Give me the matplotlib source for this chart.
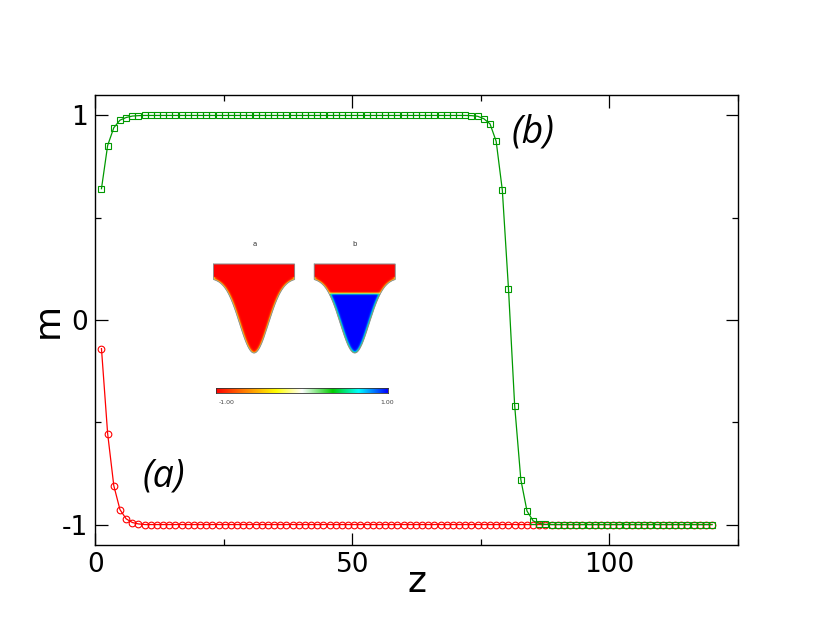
import numpy as np
import matplotlib
matplotlib.use("Agg")
import matplotlib.pyplot as plt
from matplotlib.colors import LinearSegmentedColormap

plt.rcParams['axes.unicode_minus'] = False

# sample positions along z (100 points)
z = np.round(np.arange(1, 101) * 1.2, 1)

# curve (a): red circles
m_a = [-0.14, -0.555, -0.81, -0.927, -0.972, -0.99, -0.997] + [-1.0] * 93

# curve (b): green squares
m_b = ([0.642, 0.853, 0.94, 0.977, 0.99, 0.997, 0.999]
       + [1.0] * 53
       + [0.999, 0.996]
       + [0.984, 0.959, 0.874, 0.635, 0.152, -0.418, -0.78, -0.934, -0.982, -0.995, -0.999]
       + [-1.0] * 27)

x_ticks = [0, 50, 100]
y_ticks = [-1, 0, 1]
y_ticklabels = ['-1', '0', '1']

fig = plt.figure(figsize=(8.3, 6.42), dpi=100)
ax = fig.add_axes([95.3 / 830, 97 / 642, 642.4 / 830, 450 / 642])

ax.plot(z, m_a, color='red', lw=0.9, marker='o', ms=4.8, mfc='none', mec='red', mew=0.8)
ax.plot(z, m_b, color='#009900', lw=0.9, marker='s', ms=4.2, mfc='none', mec='#009900', mew=0.8)

ax.set_xlim(0, 125)
ax.set_ylim(-1.1, 1.1)
ax.set_xticks(x_ticks)
ax.set_xticks([25, 75, 125], minor=True)
ax.set_yticks(y_ticks)
ax.set_yticklabels(y_ticklabels)
ax.set_yticks([-0.5, 0.5], minor=True)
ax.tick_params(which='both', direction='in', top=True, right=True, width=0.9)
ax.tick_params(which='major', length=9, labelsize=19, pad=5)
ax.tick_params(which='minor', length=4.5)
for s in ax.spines.values():
    s.set_linewidth(1.0)

ax.set_xlabel('z', fontsize=26, labelpad=-9)
ax.set_ylabel('m', fontsize=26, labelpad=-2)

# labels placed in figure pixels (top-down)
fig.text(164 / 830, 1 - 477 / 642, '(a)', fontsize=27, fontstyle='italic', family='Open Sans',
         ha='center', va='center')
fig.text(533 / 830, 1 - 133 / 642, '(b)', fontsize=27, fontstyle='italic', family='Open Sans',
         ha='center', va='center')

# ---- inset picture (two wells + colour bar), drawn in figure-pixel units ----
cmap = LinearSegmentedColormap.from_list('rw', [
    (0.0, '#ff0000'), (0.17, '#ff8000'), (0.35, '#ffff00'), (0.5, '#ffffff'),
    (0.68, '#00cc00'), (0.83, '#00ffff'), (1.0, '#0000ff')])

ins = fig.add_axes([200 / 830, (642 - 412) / 642, 205 / 830, 182 / 642])
ins.set_xlim(200, 405)
ins.set_ylim(412, 230)
ins.axis('off')

top_y, rim_y, depth, half_w, sig2 = 264.0, 278.0, 75.0, 40.5, 210.0
iface_y = 293.3
eps = 1.3

xs = np.arange(205, 405, 0.25)
ys = np.arange(255, 362, 0.25)
X, Y = np.meshgrid(xs, ys)

for cx, two_phase in [(254.0, False), (354.7, True)]:
    dx = X - cx
    floor = rim_y + depth * np.exp(-dx ** 2 / (2 * sig2))
    inside = (np.abs(dx) <= half_w) & (Y >= top_y) & (Y <= floor)
    # distance to the curved wall (rough)
    yy = np.clip(Y - rim_y, 1e-6, depth)
    wy = np.sqrt(np.clip(2 * sig2 * np.log(depth / yy), 0, None))
    wy = np.minimum(wy, half_w)
    dh = np.clip(wy - np.abs(dx), 0, None)
    dv = np.clip(floor - Y, 0, None)
    d = dh * dv / np.sqrt(dh ** 2 + dv ** 2 + 1e-9)
    d = np.where(Y < rim_y - 1, 99.0, d)
    if two_phase:
        v = np.tanh((Y - iface_y) / 0.9) * np.tanh(d / eps)
    else:
        v = -np.tanh(d / eps)
    v = np.ma.masked_where(~inside, v)
    ins.imshow(v, cmap=cmap, vmin=-1, vmax=1, extent=[xs[0], xs[-1], ys[-1], ys[0]],
               interpolation='bilinear', aspect='auto', zorder=1)
    cxs = np.linspace(-half_w, half_w, 200)
    ox = np.concatenate([[-half_w, half_w], cxs[::-1], [-half_w]]) + cx
    oy = np.concatenate([[top_y, top_y], rim_y + depth * np.exp(-cxs[::-1] ** 2 / (2 * sig2)), [top_y]])
    ins.plot(ox, oy, color='#8a8a8a', lw=0.5, zorder=2)

ins.text(255, 244, 'a', fontsize=5, ha='center', va='center', color='#333333')
ins.text(355, 244, 'b', fontsize=5, ha='center', va='center', color='#333333')
ins.text(227, 403, '-1.00', fontsize=4.5, ha='center', va='center', color='#444444')
ins.text(387.5, 403, '1.00', fontsize=4.5, ha='center', va='center', color='#444444')

cb = fig.add_axes([216 / 830, (642 - 392.7) / 642, 171.7 / 830, 5 / 642])
cb.imshow(np.linspace(-1, 1, 256)[None, :], cmap=cmap, aspect='auto', vmin=-1, vmax=1)
cb.set_xticks([])
cb.set_yticks([])
for s in cb.spines.values():
    s.set_linewidth(0.6)
    s.set_color('#333333')

fig.savefig('out.png', dpi=100)
